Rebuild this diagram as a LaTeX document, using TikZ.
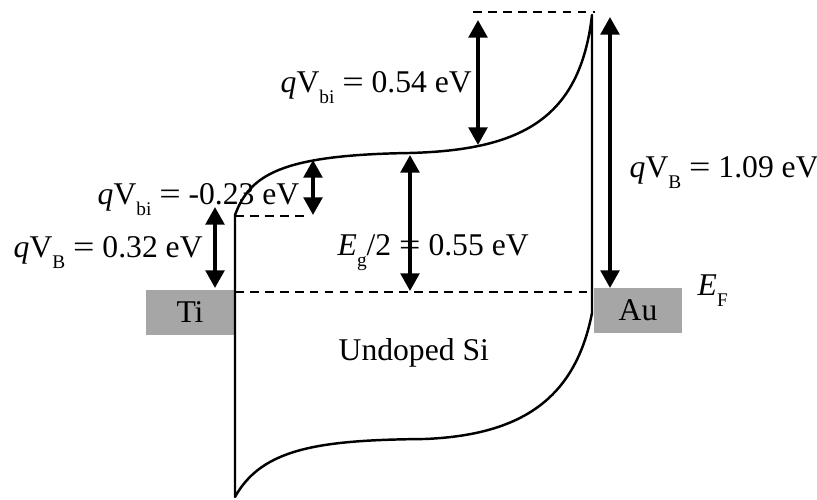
\documentclass[tikz,border=0pt]{standalone}
\usepackage{fontspec}
\setmainfont{Liberation Serif}
\usepackage{xcolor}
\usepackage{graphicx}
\usepackage{tikz}
\usetikzlibrary{arrows.meta}

\definecolor{metalgray}{HTML}{A6A6A6}
\newcommand{\lowsub}[1]{\raisebox{-6pt}{\fontsize{11}{12}\selectfont #1}}
\newcommand{\weq}{\scalebox{1.2}[1]{=}}

\begin{document}
\begin{tikzpicture}[thick]

\tikzset{
    band/.style={line width=1.4pt, line join=round},
    level/.style={line width=1.3pt, dash pattern=on 5pt off 3.5pt},
    dimarrow/.style={{Triangle[length=10pt,width=10.5pt]}-{Triangle[length=10pt,width=10.5pt]}, line width=2.2pt},
    metal/.style={rectangle, fill=metalgray, minimum width=1.76cm, minimum height=0.9cm,
                  inner sep=0pt, font=\fontsize{18}{20}\selectfont},
    elabel/.style={anchor=base west, inner sep=0pt, font=\fontsize{18}{20}\selectfont}
}

\useasboundingbox (0,0) rectangle (16.34,10);

% ── 金属 ──
\node[metal] (ti) at (3.80, 3.75) {Ti};
\node[metal] (au) at (12.76, 3.79) {Au};

% ── 能带 ──
\draw[band] (4.70, 0.06) -- (4.70, 5.70)
    .. controls (5.00, 6.50) and (5.60, 6.90) .. (8.20, 6.94)
    .. controls (10.40, 7.00) and (11.60, 7.60) .. (11.84, 9.70)
    -- (11.84, 3.74)
    .. controls (11.50, 2.00) and (10.40, 1.30) .. (8.50, 1.22)
    .. controls (6.40, 1.20) and (5.24, 1.04) .. (4.70, 0.06) -- cycle;

% ── 参考能级 ──
\coordinate (fl) at (4.70, 4.16);
\coordinate (fr) at (11.84, 4.16);
\coordinate (tl) at (9.46, 9.76);
\coordinate (tr) at (11.90, 9.76);
\coordinate (ll) at (4.70, 5.68);
\coordinate (lr) at (6.10, 5.68);

\draw[level] (fl) -- (fr);
\draw[level] (tl) -- (tr);
\draw[level] (ll) -- (lr);

% ── 箭头 ──
\coordinate (a1t) at (4.30, 5.86);
\coordinate (a1b) at (4.30, 4.24);
\coordinate (a2t) at (6.26, 6.80);
\coordinate (a2b) at (6.26, 5.70);
\coordinate (a3t) at (8.20, 6.90);
\coordinate (a3b) at (8.20, 4.18);
\coordinate (a4t) at (9.56, 9.60);
\coordinate (a4b) at (9.56, 7.10);
\coordinate (a5t) at (12.20, 9.66);
\coordinate (a5b) at (12.20, 4.24);

\draw[dimarrow] (a1t) -- (a1b);
\draw[dimarrow] (a2t) -- (a2b);
\draw[dimarrow] (a3t) -- (a3b);
\draw[dimarrow] (a4t) -- (a4b);
\draw[dimarrow] (a5t) -- (a5b);

% ── 标注 ──
\node[elabel] (vbl)  at (0.26, 4.84)  {\textit{q}V\lowsub{B} \weq{} 0.32 eV};
\node[elabel] (vbil) at (1.94, 5.90)  {\textit{q}V\lowsub{bi} \weq{} -0.23 eV};
\node[elabel] (egh)  at (6.74, 4.88)  {\textit{E}\lowsub{g}/2 \weq{} 0.55 eV};
\node[elabel] (vbir) at (5.60, 8.14)  {\textit{q}V\lowsub{bi} \weq{} 0.54 eV};
\node[elabel] (vbr)  at (12.58, 6.44) {\textit{q}V\lowsub{B} \weq{} 1.09 eV};
\node[elabel] (ef)   at (13.94, 4.08) {\textit{E}\lowsub{F}};
\node[elabel] (si)   at (6.76, 2.78)  {Undoped Si};

\end{tikzpicture}
\end{document}
